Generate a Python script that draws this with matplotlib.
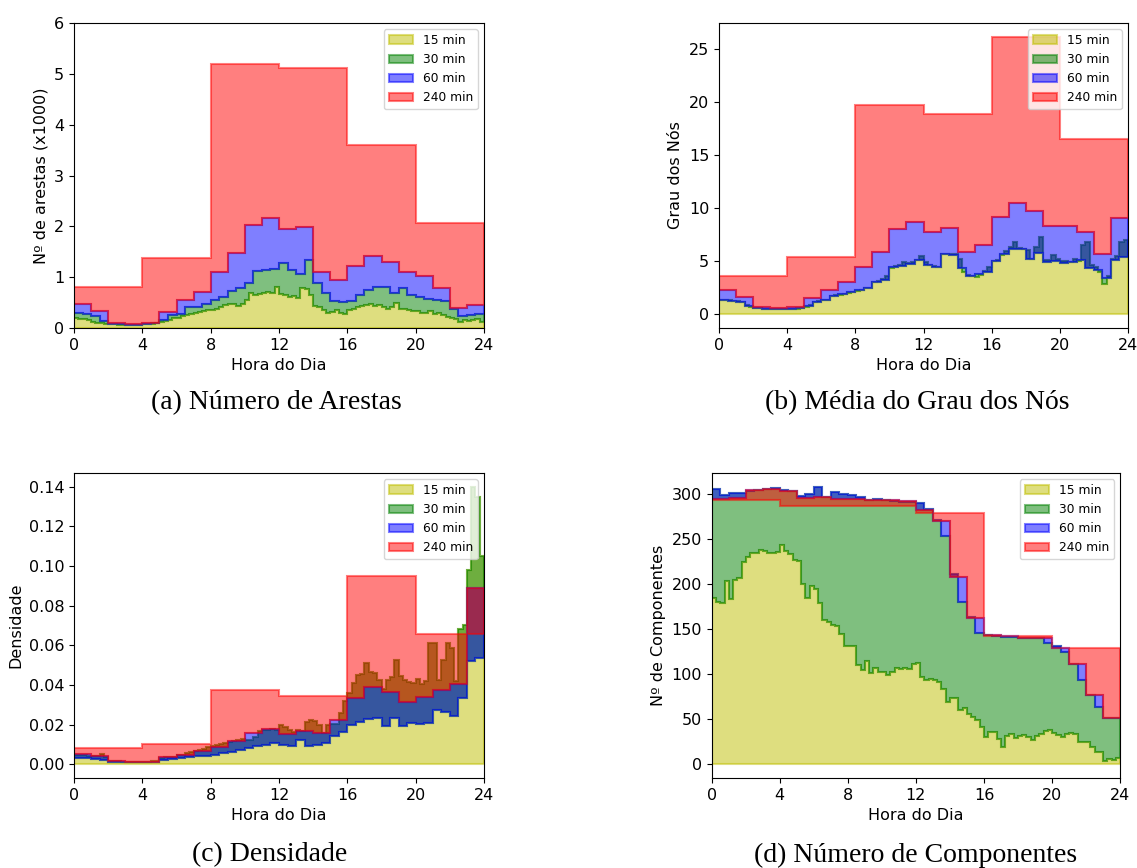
import numpy as np
import matplotlib
matplotlib.use('Agg')
import matplotlib.pyplot as plt

# bordas dos intervalos de 15 min ao longo do dia
bordas = np.arange(0, 24.25, 0.25)

# (a) Número de arestas (x1000)
arestas_15 = [0.19, 0.18, 0.18, 0.16, 0.12, 0.10, 0.09, 0.08,
              0.07, 0.07, 0.06, 0.06, 0.06, 0.05, 0.05, 0.05,
              0.07, 0.07, 0.08, 0.09, 0.12, 0.14, 0.16, 0.19,
              0.20, 0.24, 0.25, 0.27, 0.30, 0.32, 0.34, 0.35,
              0.35, 0.38, 0.42, 0.45, 0.47, 0.47, 0.43, 0.48,
              0.55, 0.69, 0.65, 0.67, 0.68, 0.71, 0.69, 0.80,
              0.67, 0.65, 0.61, 0.63, 0.60, 0.78, 0.76, 0.65,
              0.43, 0.41, 0.35, 0.29, 0.32, 0.35, 0.30, 0.27,
              0.35, 0.38, 0.41, 0.43, 0.45, 0.48, 0.43, 0.45,
              0.42, 0.37, 0.41, 0.50, 0.37, 0.38, 0.35, 0.34,
              0.33, 0.30, 0.29, 0.34, 0.27, 0.29, 0.25, 0.22,
              0.19, 0.17, 0.12, 0.16, 0.14, 0.16, 0.17, 0.12]
arestas_30 = [0.30, 0.27, 0.24, 0.14, 0.08, 0.07, 0.05, 0.05,
              0.07, 0.09, 0.16, 0.25, 0.27, 0.41, 0.42, 0.48,
              0.56, 0.61, 0.73, 0.79, 0.88, 1.12, 1.14, 1.17,
              1.27, 1.14, 1.07, 1.33, 0.88, 0.68, 0.54, 0.52,
              0.53, 0.65, 0.75, 0.81, 0.80, 0.68, 0.78, 0.64,
              0.61, 0.58, 0.55, 0.53, 0.38, 0.24, 0.25, 0.27]
arestas_60 = [0.48, 0.34, 0.10, 0.08, 0.10, 0.32, 0.56, 0.71,
              1.10, 1.48, 2.03, 2.16, 1.95, 1.98, 1.10, 0.94,
              1.22, 1.41, 1.29, 1.10, 1.02, 0.79, 0.40, 0.46]
arestas_240 = [0.81, 1.38, 5.20, 5.12, 3.60, 2.07]

# (b) Média do grau dos nós
grau_15 = [1.35, 1.35, 1.30, 1.25, 1.20, 1.10, 0.90, 0.70,
           0.60, 0.55, 0.50, 0.50, 0.45, 0.45, 0.45, 0.45,
           0.45, 0.45, 0.50, 0.55, 0.70, 0.90, 1.10, 1.20,
           1.30, 1.30, 1.70, 1.80, 1.80, 1.90, 2.00, 2.10,
           2.20, 2.30, 2.45, 2.50, 3.00, 3.10, 3.30, 3.60,
           4.30, 4.50, 4.60, 4.90, 4.80, 4.90, 5.10, 5.50,
           4.90, 4.60, 4.50, 4.40, 5.70, 5.70, 5.70, 5.70,
           5.20, 4.00, 3.70, 3.60, 3.50, 3.70, 4.10, 4.40,
           5.00, 5.10, 5.60, 5.90, 6.30, 6.80, 6.20, 6.10,
           6.00, 5.20, 6.30, 7.30, 5.10, 5.10, 5.60, 5.20,
           5.00, 5.00, 4.90, 5.20, 5.00, 6.50, 6.80, 4.60,
           4.40, 4.00, 2.80, 3.60, 5.20, 5.50, 6.80, 7.00]
grau_30 = [1.35, 1.25, 1.15, 0.80, 0.55, 0.50, 0.45, 0.45,
           0.45, 0.55, 0.80, 1.15, 1.30, 1.75, 1.85, 2.05,
           2.25, 2.50, 3.00, 3.20, 4.40, 4.50, 4.70, 5.10,
           4.60, 4.40, 5.70, 5.60, 4.30, 3.60, 3.80, 4.00,
           5.00, 5.70, 6.10, 6.10, 5.20, 5.80, 4.90, 5.00,
           4.80, 4.90, 5.10, 4.30, 4.20, 3.40, 5.10, 5.40]
grau_60 = [2.25, 1.62, 0.69, 0.56, 0.69, 1.56, 2.31, 3.00,
           4.44, 5.84, 8.00, 8.72, 7.75, 8.12, 5.84, 6.47,
           9.10, 10.47, 9.72, 8.34, 8.34, 7.69, 5.69, 9.03]
grau_240 = [3.56, 5.37, 19.7, 18.8, 26.1, 16.5]

# (c) Densidade
dens_15 = [0.0048, 0.0048, 0.0045, 0.0043, 0.0040, 0.0042, 0.0050, 0.0035,
           0.0018, 0.0016, 0.0014, 0.0013, 0.0012, 0.0012, 0.0012, 0.0012,
           0.0012, 0.0012, 0.0014, 0.0016, 0.0030, 0.0035, 0.0038, 0.0038,
           0.0045, 0.0048, 0.0058, 0.0062, 0.0066, 0.0070, 0.0078, 0.0085,
           0.0090, 0.0095, 0.0102, 0.0105, 0.0110, 0.0116, 0.0120, 0.0125,
           0.0120, 0.0120, 0.0138, 0.0165, 0.0172, 0.0170, 0.0178, 0.0172,
           0.0200, 0.0186, 0.0170, 0.0160, 0.0172, 0.0168, 0.0215, 0.0222,
           0.0218, 0.0200, 0.0158, 0.0200, 0.0205, 0.0205, 0.0260, 0.0320,
           0.0360, 0.0410, 0.0450, 0.0455, 0.0510, 0.0467, 0.0460, 0.0425,
           0.0380, 0.0425, 0.0440, 0.0525, 0.0445, 0.0425, 0.0416, 0.0410,
           0.0428, 0.0405, 0.0420, 0.0610, 0.0610, 0.0425, 0.0525, 0.0610,
           0.0585, 0.0418, 0.0680, 0.0700, 0.0980, 0.1400, 0.1350, 0.1050]
dens_30 = [0.0030, 0.0030, 0.0027, 0.0020, 0.0013, 0.0013, 0.0012, 0.0012,
           0.0012, 0.0013, 0.0023, 0.0027, 0.0033, 0.0037, 0.0040, 0.0043,
           0.0047, 0.0054, 0.0060, 0.0069, 0.0080, 0.0092, 0.0097, 0.0107,
           0.0099, 0.0094, 0.0120, 0.0094, 0.0097, 0.0107, 0.0140, 0.0161,
           0.0197, 0.0211, 0.0227, 0.0232, 0.0194, 0.0232, 0.0191, 0.0207,
           0.0204, 0.0207, 0.0274, 0.0261, 0.0244, 0.0334, 0.0522, 0.0537]
dens_60 = [0.0050, 0.0040, 0.0017, 0.0013, 0.0013, 0.0037, 0.0047, 0.0064,
           0.0087, 0.0115, 0.0157, 0.0177, 0.0154, 0.0166, 0.0157, 0.0221,
           0.0336, 0.0388, 0.0366, 0.0313, 0.0341, 0.0375, 0.0406, 0.0890]
dens_240 = [0.0080, 0.0104, 0.0376, 0.0344, 0.0950, 0.0656]

# (d) Número de componentes
comp_15 = [185, 180, 179, 203, 183, 205, 207, 224,
           230, 234, 235, 238, 237, 235, 235, 236,
           243, 237, 233, 227, 226, 200, 185, 198,
           195, 179, 160, 158, 154, 153, 144, 131,
           131, 131, 110, 105, 115, 101, 107, 102,
           102, 99, 102, 107, 106, 107, 106, 111,
           112, 97, 93, 95, 93, 91, 83, 69,
           73, 73, 60, 62, 56, 52, 49, 41,
           30, 36, 36, 28, 19, 31, 33, 29,
           31, 32, 30, 27, 31, 34, 37, 38,
           35, 32, 30, 34, 35, 33, 25, 25,
           25, 19, 14, 14, 4, 6, 5, 7]
comp_30 = [306, 299, 301, 301, 303, 304, 306, 307,
           305, 303, 298, 300, 308, 297, 302, 300,
           299, 297, 293, 295, 293, 292, 291, 291,
           290, 283, 271, 253, 211, 180, 163, 146,
           143, 142, 141, 141, 140, 140, 140, 134,
           131, 125, 111, 93, 77, 64, 51, 51]
comp_60 = [295, 296, 304, 306, 303, 296, 297, 295,
           294, 293, 293, 292, 282, 270, 208, 162,
           143, 142, 140, 140, 128.5, 111, 76.7, 51.5]
comp_240 = [293, 287, 287, 278.5, 142.6, 128.5]

cores = ['y', 'g', 'b', 'r']
rotulos = ['15 min', '30 min', '60 min', '240 min']

fig = plt.figure(figsize=(11.37, 8.68), dpi=100)


def painel(pos, series, ylabel, ylim=None):
    ax = fig.add_axes(pos)
    base = np.zeros(96)
    for vals, cor, rot in zip(series, cores, rotulos):
        v = np.repeat(np.array(vals, dtype=float), 96 // len(vals))
        ax.stairs(v, bordas, baseline=base, fill=True, facecolor=cor,
                  edgecolor=cor, linewidth=1.5, alpha=0.5, label=rot)
        base = v
    topo = max(max(s) for s in series)
    if ylim is None:
        ylim = (-0.05 * topo, 1.05 * topo)
    ax.set_ylim(*ylim)
    ax.set_xlim(0, 24)
    ax.set_xticks(range(0, 25, 4))
    ax.tick_params(labelsize=11.5)
    ax.set_xlabel('Hora do Dia', fontsize=11.5)
    ax.set_ylabel(ylabel, fontsize=11.5)
    ax.legend(loc='upper right', fontsize=8.8)
    return ax


painel([0.0651, 0.6221, 0.3606, 0.3514],
       [arestas_15, arestas_30, arestas_60, arestas_240],
       'Nº de arestas (x1000)', ylim=(0, 6))
painel([0.6324, 0.6221, 0.3597, 0.3514],
       [grau_15, grau_30, grau_60, grau_240], 'Grau dos Nós')
painel([0.0651, 0.1037, 0.3606, 0.3514],
       [dens_15, dens_30, dens_60, dens_240], 'Densidade')
painel([0.626, 0.1037, 0.3591, 0.3514],
       [comp_15, comp_30, comp_60, comp_240], 'Nº de Componentes')

legenda = dict(fontsize=20, family='Liberation Serif', ha='center', va='center')
fig.text(276 / 1137, 1 - 403 / 868, '(a) Número de Arestas', **legenda)
fig.text(917 / 1137, 1 - 403 / 868, '(b) Média do Grau dos Nós', **legenda)
fig.text(270 / 1137, 1 - 855 / 868, '(c) Densidade', **legenda)
fig.text(916 / 1137, 1 - 855 / 868, '(d) Número de Componentes', **legenda)

fig.savefig('out.png', dpi=100)
